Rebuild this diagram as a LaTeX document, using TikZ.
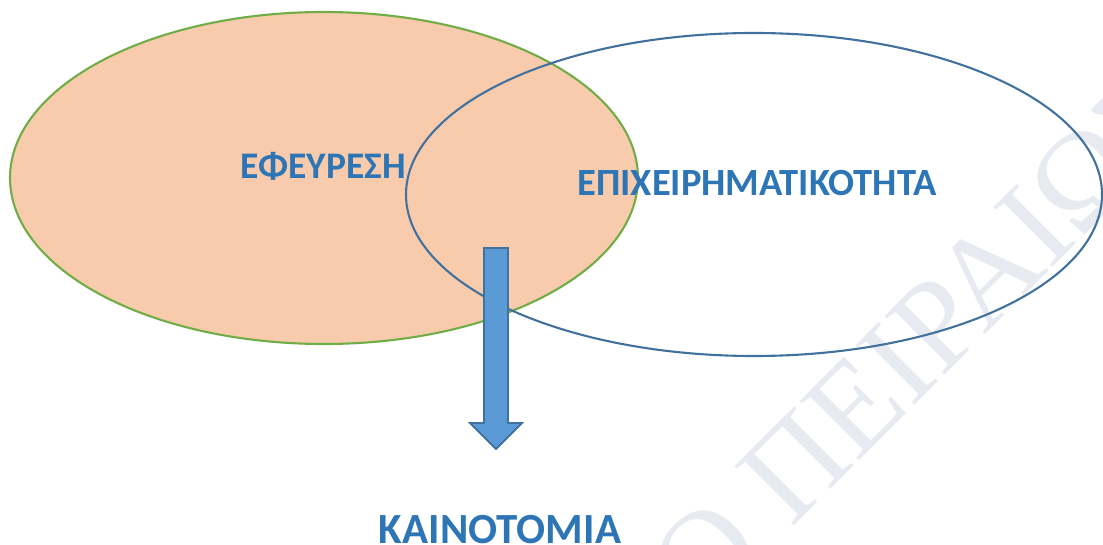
\documentclass[tikz,border=0pt]{standalone}
\usepackage{fontspec}
\newfontfamily\labelfont{Carlito}
\newfontfamily\markfont{Liberation Serif}
\definecolor{peach}{HTML}{F8CBAD}
\definecolor{leaf}{HTML}{70AD47}
\definecolor{steel}{HTML}{41719C}
\definecolor{sky}{HTML}{5B9BD5}
\definecolor{ink}{HTML}{2E75B6}
\definecolor{faint}{HTML}{E7EBF1}
\begin{document}
\begin{tikzpicture}[x=1pt,y=-1pt,
  lbl/.style={font=\labelfont\bfseries\fontsize{#1}{#1}\selectfont, text=ink, inner sep=0pt, anchor=base},
  wm/.style={font=\markfont\fontsize{128}{128}\selectfont, text=faint, inner sep=0pt, rotate=45}]
\useasboundingbox (0,0) rectangle (1103,545);
\begin{scope}
\clip (0,0) rectangle (1103,545);
% faint background mark
\coordinate (wmstart) at (791,529);
\node[wm, anchor=base west] (wmb) at (wmstart) {ΠΕΙΡΑΙΩΣ};
\node[wm, anchor=base east] (wma) at ([shift={(-23,23)}]wmstart) {ΠΑΝΕΠΙΣΤΗΜΙΟ};
% the two sets
\draw[leaf, line width=2.1pt, fill=peach] (324,178) ellipse [x radius=314, y radius=166];
\draw[steel, line width=2.1pt] (754,194.5) ellipse [x radius=348, y radius=161.5];
\end{scope}
% downward block arrow
\draw[steel, line width=1.8pt, fill=sky, line join=miter]
  (484,248) -- (508,248) -- (508,423) -- (522,423) -- (496,449) -- (470,423) -- (484,423) -- cycle;
% labels
\node[lbl=37.5] (inv) at (323,179) {ΕΦΕΥΡΕΣΗ};
\node[lbl=38.5] (ent) at (757,196) {ΕΠΙΧΕΙΡΗΜΑΤΙΚΟΤΗΤΑ};
\node[lbl=43] (inn) at (500,543) {ΚΑΙΝΟΤΟΜΙΑ};
\end{tikzpicture}
\end{document}
